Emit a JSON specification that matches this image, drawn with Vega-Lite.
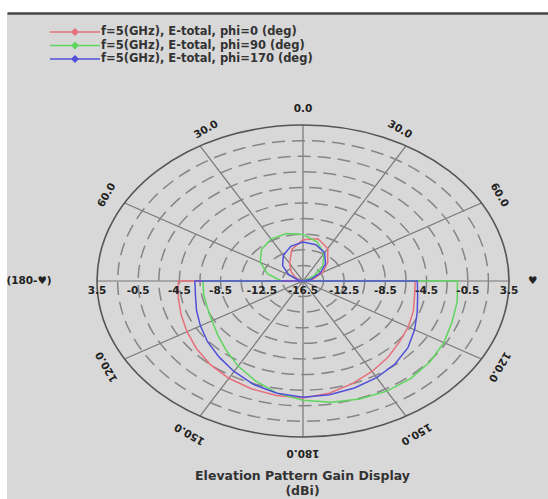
{
  "$schema": "https://vega.github.io/schema/vega-lite/v6.json",
  "width": 541,
  "height": 486,
  "autosize": {"type": "none"},
  "padding": {"left": 7, "top": 13, "right": 0, "bottom": 0},
  "background": "#ffffff",
  "config": {
    "view": {"fill": "#d8d8d8", "stroke": null},
    "text": {"font": "DejaVu Sans"}
  },
  "title": {
    "text": ["Elevation Pattern Gain Display", "(dBi)"],
    "orient": "bottom",
    "anchor": "middle",
    "frame": "group",
    "offset": -23,
    "dx": 25,
    "font": "DejaVu Sans",
    "fontSize": 12.5,
    "fontWeight": "bold",
    "color": "#333333",
    "baseline": "middle",
    "lineHeight": 14.5
  },
  "encoding": {
    "x": {
      "field": "x",
      "type": "quantitative",
      "scale": {"domain": [-28.738, 23.786], "nice": false, "zero": false},
      "axis": {"orient": "top", "labels": false, "ticks": false, "grid": false, "title": null, "domain": true, "domainColor": "#444444", "domainWidth": 2.5}
    },
    "y": {
      "field": "y",
      "type": "quantitative",
      "scale": {"domain": [-27.949, 34.359], "nice": false, "zero": false},
      "axis": null
    }
  },
  "layer": [
    {
      "data": {"values": [
        {"x": 0, "y": 20, "x2": 0, "y2": -20},
        {"x": 10, "y": 17.32, "x2": -10, "y2": -17.32},
        {"x": 17.32, "y": 10, "x2": -17.32, "y2": -10},
        {"x": 20, "y": 0, "x2": -20, "y2": 0},
        {"x": 17.32, "y": -10, "x2": -17.32, "y2": 10},
        {"x": 10, "y": -17.32, "x2": -10, "y2": 17.32}
      ]},
      "mark": {"type": "rule", "color": "#777777", "strokeWidth": 1.2},
      "encoding": {"x2": {"field": "x2"}, "y2": {"field": "y2"}}
    },
    {
      "data": {"values": [
        {"r": 2, "x": 0, "y": 0}, {"r": 4, "x": 0, "y": 0}, {"r": 6, "x": 0, "y": 0},
        {"r": 8, "x": 0, "y": 0}, {"r": 10, "x": 0, "y": 0}, {"r": 12, "x": 0, "y": 0},
        {"r": 14, "x": 0, "y": 0}, {"r": 16, "x": 0, "y": 0}, {"r": 18, "x": 0, "y": 0}
      ]},
      "mark": {
        "type": "point",
        "shape": "M1,0C1,0.4181,0.5523,0.757,0,0.757C-0.5523,0.757,-1,0.4181,-1,0C-1,-0.4181,-0.5523,-0.757,0,-0.757C0.5523,-0.757,1,-0.4181,1,0Z",
        "filled": false,
        "stroke": "#858585",
        "strokeWidth": 1.5,
        "strokeDash": [13, 7],
        "opacity": 1
      },
      "encoding": {
        "size": {"field": "r", "type": "quantitative", "scale": {"type": "pow", "exponent": 2, "domain": [0, 20], "range": [0, 169744]}, "legend": null}
      }
    },
    {
      "data": {"values": [{"r": 20, "x": 0, "y": 0}]},
      "mark": {
        "type": "point",
        "shape": "M1,0C1,0.4181,0.5523,0.757,0,0.757C-0.5523,0.757,-1,0.4181,-1,0C-1,-0.4181,-0.5523,-0.757,0,-0.757C0.5523,-0.757,1,-0.4181,1,0Z",
        "filled": false,
        "stroke": "#555555",
        "strokeWidth": 1.6,
        "opacity": 1
      },
      "encoding": {
        "size": {"field": "r", "type": "quantitative", "scale": {"type": "pow", "exponent": 2, "domain": [0, 20], "range": [0, 169744]}, "legend": null}
      }
    },
    {
      "data": {"values": [
        {"s": "f=5(GHz), E-total, phi=0 (deg)", "i": 0, "x": 0, "y": 0},
        {"s": "f=5(GHz), E-total, phi=0 (deg)", "i": 1, "x": -0.29, "y": 0.08},
        {"s": "f=5(GHz), E-total, phi=0 (deg)", "i": 2, "x": -0.69, "y": 0.4},
        {"s": "f=5(GHz), E-total, phi=0 (deg)", "i": 3, "x": -1.13, "y": 1.13},
        {"s": "f=5(GHz), E-total, phi=0 (deg)", "i": 4, "x": -1.3, "y": 2.25},
        {"s": "f=5(GHz), E-total, phi=0 (deg)", "i": 5, "x": -1.09, "y": 4.06},
        {"s": "f=5(GHz), E-total, phi=0 (deg)", "i": 6, "x": 0, "y": 5.3},
        {"s": "f=5(GHz), E-total, phi=0 (deg)", "i": 7, "x": 1.45, "y": 5.41},
        {"s": "f=5(GHz), E-total, phi=0 (deg)", "i": 8, "x": 2.4, "y": 4.16},
        {"s": "f=5(GHz), E-total, phi=0 (deg)", "i": 9, "x": 2.4, "y": 2.4},
        {"s": "f=5(GHz), E-total, phi=0 (deg)", "i": 10, "x": 1.91, "y": 1.1},
        {"s": "f=5(GHz), E-total, phi=0 (deg)", "i": 11, "x": 0.97, "y": 0.26},
        {"s": "f=5(GHz), E-total, phi=0 (deg)", "i": 12, "x": 0, "y": 0},
        {"s": "f=5(GHz), E-total, phi=0 (deg)", "i": 13, "x": 10.9, "y": 0},
        {"s": "f=5(GHz), E-total, phi=0 (deg)", "i": 14, "x": 10.83, "y": -1.91},
        {"s": "f=5(GHz), E-total, phi=0 (deg)", "i": 15, "x": 10.71, "y": -3.9},
        {"s": "f=5(GHz), E-total, phi=0 (deg)", "i": 16, "x": 10.22, "y": -5.9},
        {"s": "f=5(GHz), E-total, phi=0 (deg)", "i": 17, "x": 9.35, "y": -7.84},
        {"s": "f=5(GHz), E-total, phi=0 (deg)", "i": 18, "x": 8.23, "y": -9.8},
        {"s": "f=5(GHz), E-total, phi=0 (deg)", "i": 19, "x": 6.7, "y": -11.6},
        {"s": "f=5(GHz), E-total, phi=0 (deg)", "i": 20, "x": 4.79, "y": -13.16},
        {"s": "f=5(GHz), E-total, phi=0 (deg)", "i": 21, "x": 2.53, "y": -14.38},
        {"s": "f=5(GHz), E-total, phi=0 (deg)", "i": 22, "x": 0, "y": -15.0},
        {"s": "f=5(GHz), E-total, phi=0 (deg)", "i": 23, "x": -2.59, "y": -14.67},
        {"s": "f=5(GHz), E-total, phi=0 (deg)", "i": 24, "x": -5.03, "y": -13.81},
        {"s": "f=5(GHz), E-total, phi=0 (deg)", "i": 25, "x": -7.2, "y": -12.47},
        {"s": "f=5(GHz), E-total, phi=0 (deg)", "i": 26, "x": -9.0, "y": -10.72},
        {"s": "f=5(GHz), E-total, phi=0 (deg)", "i": 27, "x": -10.34, "y": -8.68},
        {"s": "f=5(GHz), E-total, phi=0 (deg)", "i": 28, "x": -11.26, "y": -6.5},
        {"s": "f=5(GHz), E-total, phi=0 (deg)", "i": 29, "x": -11.84, "y": -4.31},
        {"s": "f=5(GHz), E-total, phi=0 (deg)", "i": 30, "x": -12.11, "y": -2.14},
        {"s": "f=5(GHz), E-total, phi=0 (deg)", "i": 31, "x": -12.1, "y": 0},
        {"s": "f=5(GHz), E-total, phi=0 (deg)", "i": 32, "x": 0, "y": 0},

        {"s": "f=5(GHz), E-total, phi=90 (deg)", "i": 0, "x": -2.1, "y": 0},
        {"s": "f=5(GHz), E-total, phi=90 (deg)", "i": 1, "x": -3.43, "y": 0.92},
        {"s": "f=5(GHz), E-total, phi=90 (deg)", "i": 2, "x": -4.16, "y": 2.4},
        {"s": "f=5(GHz), E-total, phi=90 (deg)", "i": 3, "x": -4.03, "y": 4.03},
        {"s": "f=5(GHz), E-total, phi=90 (deg)", "i": 4, "x": -3.1, "y": 5.37},
        {"s": "f=5(GHz), E-total, phi=90 (deg)", "i": 5, "x": -1.63, "y": 6.09},
        {"s": "f=5(GHz), E-total, phi=90 (deg)", "i": 6, "x": 0, "y": 5.95},
        {"s": "f=5(GHz), E-total, phi=90 (deg)", "i": 7, "x": 1.35, "y": 5.02},
        {"s": "f=5(GHz), E-total, phi=90 (deg)", "i": 8, "x": 2.05, "y": 3.55},
        {"s": "f=5(GHz), E-total, phi=90 (deg)", "i": 9, "x": 1.91, "y": 1.91},
        {"s": "f=5(GHz), E-total, phi=90 (deg)", "i": 10, "x": 1.04, "y": 0.6},
        {"s": "f=5(GHz), E-total, phi=90 (deg)", "i": 11, "x": 0.19, "y": 0.05},
        {"s": "f=5(GHz), E-total, phi=90 (deg)", "i": 12, "x": 0, "y": 0},
        {"s": "f=5(GHz), E-total, phi=90 (deg)", "i": 13, "x": 15.0, "y": 0},
        {"s": "f=5(GHz), E-total, phi=90 (deg)", "i": 14, "x": 14.97, "y": -2.64},
        {"s": "f=5(GHz), E-total, phi=90 (deg)", "i": 15, "x": 14.47, "y": -5.27},
        {"s": "f=5(GHz), E-total, phi=90 (deg)", "i": 16, "x": 13.68, "y": -7.9},
        {"s": "f=5(GHz), E-total, phi=90 (deg)", "i": 17, "x": 12.33, "y": -10.35},
        {"s": "f=5(GHz), E-total, phi=90 (deg)", "i": 18, "x": 10.48, "y": -12.49},
        {"s": "f=5(GHz), E-total, phi=90 (deg)", "i": 19, "x": 8.15, "y": -14.12},
        {"s": "f=5(GHz), E-total, phi=90 (deg)", "i": 20, "x": 5.51, "y": -15.13},
        {"s": "f=5(GHz), E-total, phi=90 (deg)", "i": 21, "x": 2.74, "y": -15.56},
        {"s": "f=5(GHz), E-total, phi=90 (deg)", "i": 22, "x": 0, "y": -15.3},
        {"s": "f=5(GHz), E-total, phi=90 (deg)", "i": 23, "x": -2.53, "y": -14.38},
        {"s": "f=5(GHz), E-total, phi=90 (deg)", "i": 24, "x": -4.65, "y": -12.78},
        {"s": "f=5(GHz), E-total, phi=90 (deg)", "i": 25, "x": -6.3, "y": -10.91},
        {"s": "f=5(GHz), E-total, phi=90 (deg)", "i": 26, "x": -7.46, "y": -8.89},
        {"s": "f=5(GHz), E-total, phi=90 (deg)", "i": 27, "x": -8.27, "y": -6.94},
        {"s": "f=5(GHz), E-total, phi=90 (deg)", "i": 28, "x": -8.83, "y": -5.1},
        {"s": "f=5(GHz), E-total, phi=90 (deg)", "i": 29, "x": -9.3, "y": -3.39},
        {"s": "f=5(GHz), E-total, phi=90 (deg)", "i": 30, "x": -9.65, "y": -1.7},
        {"s": "f=5(GHz), E-total, phi=90 (deg)", "i": 31, "x": -9.7, "y": 0},
        {"s": "f=5(GHz), E-total, phi=90 (deg)", "i": 32, "x": -2.1, "y": 0},

        {"s": "f=5(GHz), E-total, phi=170 (deg)", "i": 0, "x": 0, "y": 0},
        {"s": "f=5(GHz), E-total, phi=170 (deg)", "i": 1, "x": -0.48, "y": 0.13},
        {"s": "f=5(GHz), E-total, phi=170 (deg)", "i": 2, "x": -1.39, "y": 0.8},
        {"s": "f=5(GHz), E-total, phi=170 (deg)", "i": 3, "x": -1.98, "y": 1.98},
        {"s": "f=5(GHz), E-total, phi=170 (deg)", "i": 4, "x": -1.9, "y": 3.29},
        {"s": "f=5(GHz), E-total, phi=170 (deg)", "i": 5, "x": -1.19, "y": 4.44},
        {"s": "f=5(GHz), E-total, phi=170 (deg)", "i": 6, "x": 0, "y": 5.0},
        {"s": "f=5(GHz), E-total, phi=170 (deg)", "i": 7, "x": 1.24, "y": 4.64},
        {"s": "f=5(GHz), E-total, phi=170 (deg)", "i": 8, "x": 2.1, "y": 3.64},
        {"s": "f=5(GHz), E-total, phi=170 (deg)", "i": 9, "x": 2.19, "y": 2.19},
        {"s": "f=5(GHz), E-total, phi=170 (deg)", "i": 10, "x": 1.65, "y": 0.95},
        {"s": "f=5(GHz), E-total, phi=170 (deg)", "i": 11, "x": 0.77, "y": 0.21},
        {"s": "f=5(GHz), E-total, phi=170 (deg)", "i": 12, "x": 0, "y": 0},
        {"s": "f=5(GHz), E-total, phi=170 (deg)", "i": 13, "x": 11.1, "y": 0},
        {"s": "f=5(GHz), E-total, phi=170 (deg)", "i": 14, "x": 11.13, "y": -1.96},
        {"s": "f=5(GHz), E-total, phi=170 (deg)", "i": 15, "x": 11.09, "y": -4.04},
        {"s": "f=5(GHz), E-total, phi=170 (deg)", "i": 16, "x": 10.83, "y": -6.25},
        {"s": "f=5(GHz), E-total, phi=170 (deg)", "i": 17, "x": 10.19, "y": -8.55},
        {"s": "f=5(GHz), E-total, phi=170 (deg)", "i": 18, "x": 8.93, "y": -10.65},
        {"s": "f=5(GHz), E-total, phi=170 (deg)", "i": 19, "x": 7.15, "y": -12.38},
        {"s": "f=5(GHz), E-total, phi=170 (deg)", "i": 20, "x": 4.99, "y": -13.72},
        {"s": "f=5(GHz), E-total, phi=170 (deg)", "i": 21, "x": 2.57, "y": -14.58},
        {"s": "f=5(GHz), E-total, phi=170 (deg)", "i": 22, "x": 0, "y": -14.9},
        {"s": "f=5(GHz), E-total, phi=170 (deg)", "i": 23, "x": -2.53, "y": -14.38},
        {"s": "f=5(GHz), E-total, phi=170 (deg)", "i": 24, "x": -4.82, "y": -13.25},
        {"s": "f=5(GHz), E-total, phi=170 (deg)", "i": 25, "x": -6.7, "y": -11.6},
        {"s": "f=5(GHz), E-total, phi=170 (deg)", "i": 26, "x": -8.16, "y": -9.73},
        {"s": "f=5(GHz), E-total, phi=170 (deg)", "i": 27, "x": -9.27, "y": -7.78},
        {"s": "f=5(GHz), E-total, phi=170 (deg)", "i": 28, "x": -9.96, "y": -5.75},
        {"s": "f=5(GHz), E-total, phi=170 (deg)", "i": 29, "x": -10.34, "y": -3.76},
        {"s": "f=5(GHz), E-total, phi=170 (deg)", "i": 30, "x": -10.44, "y": -1.84},
        {"s": "f=5(GHz), E-total, phi=170 (deg)", "i": 31, "x": -10.5, "y": 0},
        {"s": "f=5(GHz), E-total, phi=170 (deg)", "i": 32, "x": 0, "y": 0}
      ]},
      "mark": {"type": "line", "strokeWidth": 1.5},
      "encoding": {
        "order": {"field": "i", "type": "quantitative"},
        "color": {
          "field": "s",
          "type": "nominal",
          "scale": {
            "domain": ["f=5(GHz), E-total, phi=0 (deg)", "f=5(GHz), E-total, phi=90 (deg)", "f=5(GHz), E-total, phi=170 (deg)"],
            "range": ["#e6707c", "#5fd65f", "#5050d8"]
          },
          "legend": {
            "orient": "none",
            "legendX": 62,
            "legendY": 13,
            "title": null,
            "padding": 0,
            "symbolType": "M-5,0L5,0M-0.6,0L0,-0.6L0.6,0L0,0.6Z",
            "symbolSize": 100,
            "symbolStrokeWidth": 1.5,
            "labelFont": "DejaVu Sans",
            "labelFontSize": 11.5,
            "labelFontWeight": "bold",
            "labelColor": "#333333",
            "labelOffset": 20,
            "labelLimit": 400,
            "rowPadding": 1.5,
            "encode": {
              "symbols": {
                "update": {
                  "fill": {"scale": "color", "field": "value"},
                  "stroke": {"scale": "color", "field": "value"},
                  "opacity": {"value": 1}
                }
              }
            }
          }
        }
      }
    },
    {
      "data": {"values": [
        {"t": "3.5", "x": -20, "y": -1.3},
        {"t": "-0.5", "x": -16, "y": -1.3},
        {"t": "-4.5", "x": -12, "y": -1.3},
        {"t": "-8.5", "x": -8, "y": -1.3},
        {"t": "-12.5", "x": -4, "y": -1.3},
        {"t": "-16.5", "x": 0, "y": -1.3},
        {"t": "-12.5", "x": 4, "y": -1.3},
        {"t": "-8.5", "x": 8, "y": -1.3},
        {"t": "-4.5", "x": 12, "y": -1.3},
        {"t": "-0.5", "x": 16, "y": -1.3},
        {"t": "3.5", "x": 20, "y": -1.3}
      ]},
      "mark": {"type": "text", "font": "DejaVu Sans", "fontSize": 10.5, "fontWeight": "bold", "color": "#222222", "align": "center", "baseline": "middle"},
      "encoding": {"text": {"field": "t"}}
    },
    {
      "data": {"values": [
        {"t": "0.0", "a": 0, "x": 0, "y": 22},
        {"t": "30.0", "a": 30, "x": 9.4, "y": 19.4},
        {"t": "60.0", "a": 60, "x": 19.05, "y": 11},
        {"t": "120.0", "a": 120, "x": 19.05, "y": -11},
        {"t": "150.0", "a": 150, "x": 11, "y": -19.6},
        {"t": "180.0", "a": 180, "x": 0, "y": -22},
        {"t": "150.0", "a": 210, "x": -11, "y": -19.6},
        {"t": "120.0", "a": 240, "x": -19.05, "y": -11},
        {"t": "60.0", "a": 300, "x": -19.05, "y": 11},
        {"t": "30.0", "a": 330, "x": -9.4, "y": 19.4},
        {"t": "(180-♥)", "a": 0, "x": -26.6, "y": 0},
        {"t": "♥", "a": 0, "x": 22.3, "y": 0}
      ]},
      "mark": {"type": "text", "font": "DejaVu Sans", "fontSize": 10.5, "fontWeight": "bold", "color": "#222222", "align": "center", "baseline": "middle"},
      "encoding": {
        "text": {"field": "t"},
        "angle": {"field": "a", "type": "quantitative", "scale": {"domain": [0, 360], "range": [0, 360]}, "legend": null}
      }
    }
  ]
}
